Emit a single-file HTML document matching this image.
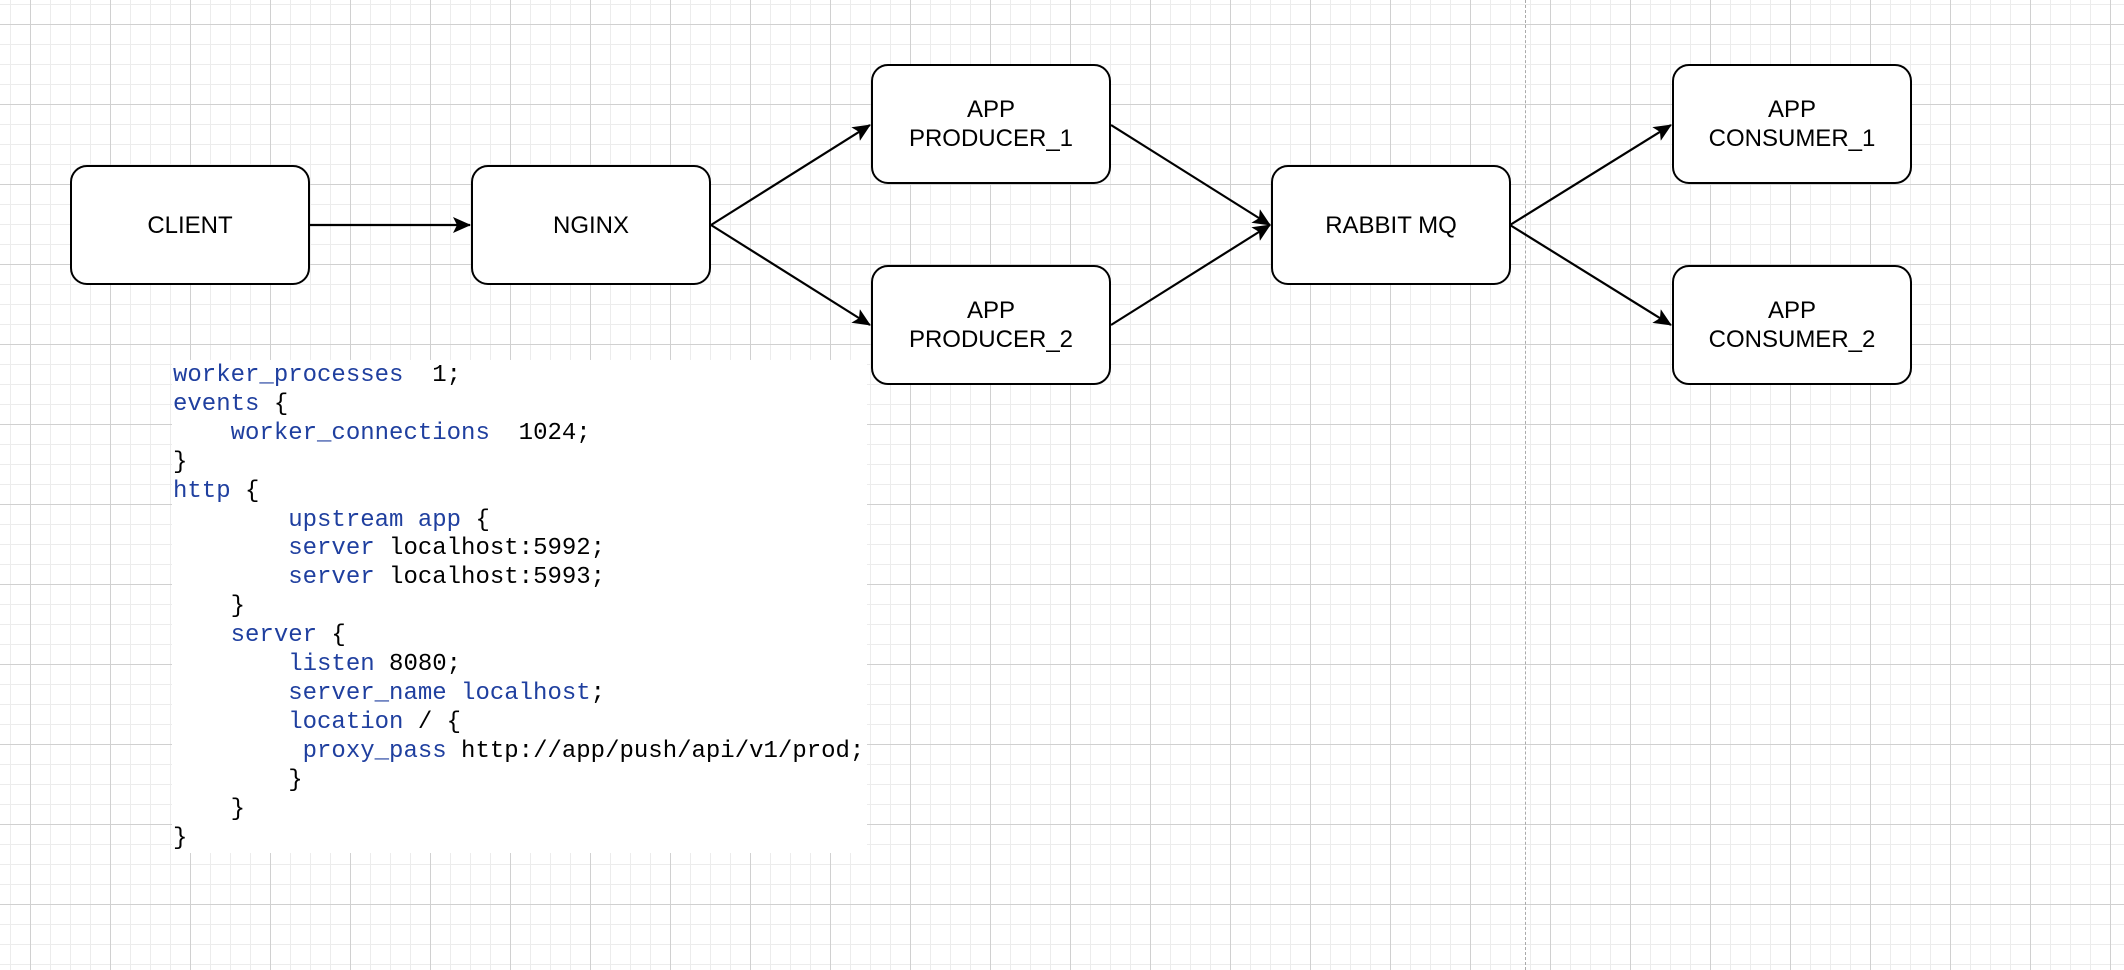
<!DOCTYPE html>
<html><head><meta charset="utf-8"><style>
html,body{margin:0;padding:0;}
body{width:2124px;height:970px;position:relative;overflow:hidden;background:#fff;
background-image:
linear-gradient(to right,#d0d0d0 1px,transparent 1px),
linear-gradient(to bottom,#d0d0d0 1px,transparent 1px),
linear-gradient(to right,#ececec 1px,transparent 1px),
linear-gradient(to bottom,#ececec 1px,transparent 1px);
background-size:80px 80px,80px 80px,20px 20px,20px 20px;
background-position:30px 24px,30px 24px,10px 4px,10px 4px;}
.box{position:absolute;width:240px;height:120px;border:2.5px solid #000;border-radius:17px;background:#fff;box-sizing:border-box;display:flex;align-items:center;justify-content:center;text-align:center;font-family:"Liberation Sans",sans-serif;font-size:24px;line-height:29px;color:#000;}
.code{position:absolute;left:172px;top:360px;width:695px;height:493px;background:#fff;}
pre{position:absolute;left:173px;top:362px;margin:0;font-family:"Liberation Mono",monospace;font-size:24px;line-height:28.9px;color:#000;}
.k{color:#1f3f9f;}
</style></head><body>
<div style="position:absolute;left:1525px;top:0;height:970px;border-left:1px dashed #aaa;"></div>
<svg width="2124" height="970" style="position:absolute;left:0;top:0">
<defs><marker id="a" markerWidth="18" markerHeight="18" refX="17" refY="8" orient="auto" markerUnits="userSpaceOnUse"><path d="M0,0 L18,8 L0,16 L4,8 Z" fill="#000"/></marker></defs>
<g stroke="#000" stroke-width="2.2" fill="none" marker-end="url(#a)">
<line x1="310" y1="225" x2="470" y2="225"/>
<line x1="711" y1="225" x2="870" y2="125"/>
<line x1="711" y1="225" x2="870" y2="325"/>
<line x1="1111" y1="125" x2="1270" y2="225"/>
<line x1="1111" y1="325" x2="1270" y2="225"/>
<line x1="1510" y1="225" x2="1671" y2="125"/>
<line x1="1510" y1="225" x2="1671" y2="325"/>
</g></svg>
<div class="box" style="left:70px;top:165px">CLIENT</div>
<div class="box" style="left:471px;top:165px">NGINX</div>
<div class="box" style="left:871px;top:64px">APP<br>PRODUCER_1</div>
<div class="box" style="left:871px;top:265px">APP<br>PRODUCER_2</div>
<div class="box" style="left:1271px;top:165px">RABBIT MQ</div>
<div class="box" style="left:1672px;top:64px">APP<br>CONSUMER_1</div>
<div class="box" style="left:1672px;top:265px">APP<br>CONSUMER_2</div>
<div class="code"></div>
<pre><span class="k">worker_processes</span>  1;
<span class="k">events</span> {
    <span class="k">worker_connections</span>  1024;
}
<span class="k">http</span> {
        <span class="k">upstream app</span> {
        <span class="k">server</span> localhost:5992;
        <span class="k">server</span> localhost:5993;
    }
    <span class="k">server</span> {
        <span class="k">listen</span> 8080;
        <span class="k">server_name localhost</span>;
        <span class="k">location</span> / {
         <span class="k">proxy_pass</span> http://app/push/api/v1/prod;
        }
    }
}</pre>
</body></html>
